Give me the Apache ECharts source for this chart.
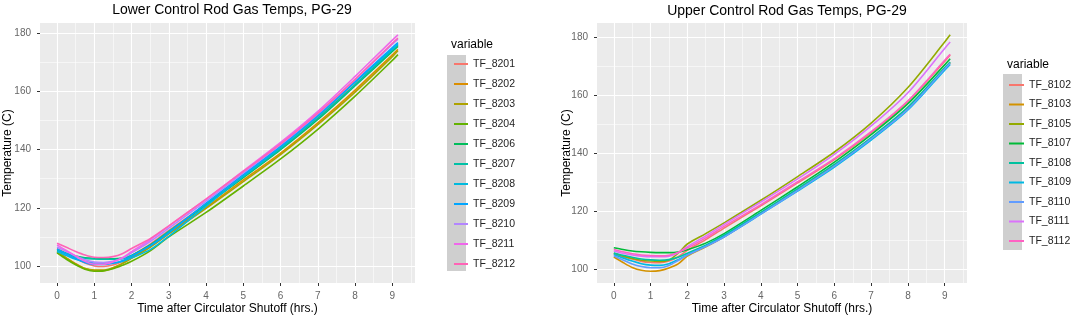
<!DOCTYPE html>
<html>
<head>
<meta charset="utf-8">
<title>Control Rod Gas Temps, PG-29</title>
<script src="https://cdn.jsdelivr.net/npm/echarts@6/dist/echarts.min.js"></script>
<style>
  html, body { margin: 0; padding: 0; background: #fff; }
  #chart { width: 1072px; height: 320px; }
</style>
</head>
<body>
<div id="chart"></div>
<script>
// time after circulator shutoff, hrs.
var hours = [0, 0.25, 0.5, 0.75, 1, 1.25, 1.5, 1.75, 2, 2.5, 3, 4, 5, 6, 7, 8, 9, 9.15];

// lower control rod gas temps (C)
var TF_8201 = [106.0, 104.3, 102.6, 101.0, 100.0, 99.8, 100.3, 101.5, 103.5, 107.5, 112.2, 121.3, 130.8, 140.4, 151.0, 162.5, 174.2, 175.8];
var TF_8202 = [105.0, 102.8, 100.8, 99.1, 98.4, 98.4, 99.3, 100.8, 102.9, 106.8, 111.4, 120.2, 129.6, 138.8, 149.2, 160.5, 172.6, 174.5];
var TF_8203 = [104.8, 102.6, 100.6, 99.1, 98.6, 98.6, 99.4, 100.8, 102.6, 106.4, 111.0, 119.8, 129.0, 138.3, 148.6, 159.8, 172.0, 174.0];
var TF_8204 = [104.5, 102.3, 100.4, 98.9, 98.2, 98.3, 99.0, 100.2, 101.6, 105.2, 110.0, 118.4, 127.5, 136.8, 147.0, 158.4, 170.7, 172.7];
var TF_8206 = [105.6, 104.4, 103.4, 102.8, 102.6, 102.5, 102.5, 102.7, 103.6, 107.2, 111.8, 121.0, 130.4, 140.0, 150.4, 162.0, 173.8, 175.5];
var TF_8207 = [105.3, 104.2, 103.2, 102.6, 102.4, 102.3, 102.3, 102.5, 103.5, 107.1, 111.9, 121.2, 130.7, 140.3, 150.8, 162.3, 174.2, 176.0];
var TF_8208 = [105.0, 103.6, 102.3, 101.4, 101.0, 101.0, 101.0, 101.5, 102.8, 105.6, 110.2, 120.6, 130.9, 140.8, 151.5, 163.2, 174.6, 176.3];
var TF_8209 = [105.8, 104.2, 102.6, 101.2, 100.5, 100.5, 100.9, 101.8, 103.4, 106.9, 111.4, 121.6, 131.4, 141.2, 151.9, 163.4, 175.1, 176.8];
var TF_8210 = [106.5, 105.0, 103.4, 102.1, 101.3, 101.2, 101.6, 102.6, 104.5, 108.4, 113.0, 122.3, 132.0, 141.7, 152.3, 164.1, 176.3, 178.0];
var TF_8211 = [107.2, 105.3, 103.4, 101.6, 100.6, 100.6, 101.4, 102.8, 104.9, 109.0, 113.7, 123.0, 132.7, 142.5, 153.2, 165.2, 177.7, 179.5];
var TF_8212 = [107.8, 106.4, 105.0, 103.8, 103.0, 102.9, 103.2, 104.2, 106.0, 109.4, 113.8, 123.0, 132.5, 142.0, 152.6, 164.2, 176.6, 178.4];

// upper control rod gas temps (C)
var TF_8102 = [105.2, 104.3, 103.5, 102.7, 102.3, 102.2, 102.8, 104.3, 106.5, 110.2, 114.2, 121.9, 129.8, 137.9, 147.2, 158.0, 171.8, 174.0];
var TF_8103 = [104.2, 102.3, 100.6, 99.6, 99.3, 99.5, 100.4, 101.8, 104.5, 107.7, 111.2, 119.3, 127.4, 135.8, 145.2, 155.6, 169.4, 171.4];
var TF_8105 = [105.5, 104.5, 103.7, 103.1, 102.8, 102.7, 103.2, 105.5, 108.7, 112.3, 116.0, 123.8, 132.0, 140.5, 150.5, 162.8, 178.5, 181.0];
var TF_8107 = [107.4, 106.8, 106.3, 106.0, 105.8, 105.7, 105.7, 105.9, 106.7, 109.0, 112.3, 120.3, 128.5, 137.0, 146.5, 157.2, 170.6, 172.7];
var TF_8108 = [105.6, 104.8, 104.1, 103.5, 103.2, 103.1, 103.3, 104.1, 105.5, 108.3, 111.7, 119.6, 127.8, 136.2, 145.5, 156.0, 169.6, 171.6];
var TF_8109 = [105.1, 103.9, 102.8, 101.9, 101.4, 101.3, 101.9, 103.3, 105.0, 108.0, 111.2, 119.0, 127.0, 135.3, 144.6, 155.0, 168.8, 170.8];
var TF_8110 = [104.6, 103.2, 101.8, 100.9, 100.5, 100.5, 101.3, 103.0, 104.9, 107.8, 111.1, 119.1, 127.2, 135.6, 145.0, 155.3, 169.2, 171.2];
var TF_8111 = [106.3, 105.5, 104.9, 104.5, 104.3, 104.3, 104.5, 105.7, 107.8, 111.5, 115.5, 123.2, 131.2, 139.7, 149.5, 161.0, 176.3, 178.5];
var TF_8112 = [106.8, 106.0, 105.3, 104.9, 104.7, 104.6, 104.8, 105.8, 107.3, 110.8, 114.8, 122.3, 130.2, 138.2, 147.5, 158.2, 172.2, 174.3];

var lowerNames = ['TF_8201', 'TF_8202', 'TF_8203', 'TF_8204', 'TF_8206', 'TF_8207', 'TF_8208', 'TF_8209', 'TF_8210', 'TF_8211', 'TF_8212'];
var lowerValues = [TF_8201, TF_8202, TF_8203, TF_8204, TF_8206, TF_8207, TF_8208, TF_8209, TF_8210, TF_8211, TF_8212];
var upperNames = ['TF_8102', 'TF_8103', 'TF_8105', 'TF_8107', 'TF_8108', 'TF_8109', 'TF_8110', 'TF_8111', 'TF_8112'];
var upperValues = [TF_8102, TF_8103, TF_8105, TF_8107, TF_8108, TF_8109, TF_8110, TF_8111, TF_8112];

// axis breaks
var xBreaks = [0, 1, 2, 3, 4, 5, 6, 7, 8, 9];
var xMinorBreaks = [0.5, 1.5, 2.5, 3.5, 4.5, 5.5, 6.5, 7.5, 8.5, 9.5];
var yBreaks = [100, 120, 140, 160, 180];
var yMinorBreaks = [110, 130, 150, 170];

// ggplot default hue palettes
var lowerColors = ['#F8766D', '#DB8E00', '#AEA200', '#64B200', '#00BD5C', '#00C1A7', '#00BADE', '#00A6FF', '#B385FF', '#EF67EB', '#FF63B6'];
var upperColors = ['#F8766D', '#D39200', '#93AA00', '#00BA38', '#00C19F', '#00B9E3', '#619CFF', '#DB72FB', '#FF61C3'];

var FONT = '"Liberation Sans", Arial, sans-serif';

// ggplot style 5% expansion of the data range
function expand(arrs) {
  var lo = Infinity, hi = -Infinity;
  arrs.forEach(function (a) {
    a.forEach(function (v) { lo = Math.min(lo, v); hi = Math.max(hi, v); });
  });
  var pad = (hi - lo) * 0.05;
  return [lo - pad, hi + pad];
}

var xRange = expand([hours]);
var yLower = expand(lowerValues);
var yUpper = expand(upperValues);

function majorX(gridIndex, gap) {
  return {
    type: 'value', gridIndex: gridIndex, min: xRange[0], max: xRange[1],
    name: 'Time after Circulator Shutoff (hrs.)', nameLocation: 'middle', nameGap: gap,
    nameMoveOverlap: false,
    nameTextStyle: { fontFamily: FONT, fontSize: 12, color: '#000' },
    axisLine: { show: false, onZero: false },
    axisTick: { show: true, length: 3, customValues: xBreaks, lineStyle: { color: '#333' } },
    axisLabel: { customValues: xBreaks, margin: 8, fontFamily: FONT, fontSize: 10, color: '#666' },
    splitLine: { show: true, lineStyle: { color: '#fff', width: 1.1 } }
  };
}
function minorX(gridIndex) {
  return {
    type: 'value', gridIndex: gridIndex, min: xRange[0], max: xRange[1],
    axisLine: { show: false, onZero: false },
    axisTick: { show: false, customValues: xMinorBreaks },
    axisLabel: { show: false, customValues: xMinorBreaks },
    splitLine: { show: true, lineStyle: { color: '#fff', width: 0.55 } }
  };
}
function majorY(gridIndex, range, gap) {
  return {
    type: 'value', gridIndex: gridIndex, min: range[0], max: range[1],
    name: 'Temperature (C)', nameLocation: 'middle', nameGap: gap,
    nameMoveOverlap: false,
    nameTextStyle: { fontFamily: FONT, fontSize: 12, color: '#000' },
    axisLine: { show: false, onZero: false },
    axisTick: { show: true, length: 3, customValues: yBreaks, lineStyle: { color: '#333' } },
    axisLabel: { customValues: yBreaks, margin: 9, fontFamily: FONT, fontSize: 10, color: '#666' },
    splitLine: { show: true, lineStyle: { color: '#fff', width: 1.1 } }
  };
}
function minorY(gridIndex, range) {
  return {
    type: 'value', gridIndex: gridIndex, min: range[0], max: range[1],
    axisLine: { show: false, onZero: false },
    axisTick: { show: false, customValues: yMinorBreaks },
    axisLabel: { show: false, customValues: yMinorBreaks },
    splitLine: { show: true, lineStyle: { color: '#fff', width: 0.55 } }
  };
}

var series = [];
lowerNames.forEach(function (name, i) {
  series.push({
    name: name, type: 'line', xAxisIndex: 0, yAxisIndex: 0,
    data: hours.map(function (t, j) { return [t, lowerValues[i][j]]; }),
    showSymbol: false, smooth: 0.3, color: lowerColors[i],
    lineStyle: { width: 1.6 }, z: 3
  });
});
upperNames.forEach(function (name, i) {
  series.push({
    name: name, type: 'line', xAxisIndex: 2, yAxisIndex: 2,
    data: hours.map(function (t, j) { return [t, upperValues[i][j]]; }),
    showSymbol: false, smooth: 0.3, color: upperColors[i],
    lineStyle: { width: 1.6 }, z: 3
  });
});

var chart = echarts.init(document.getElementById('chart'), null, { renderer: 'canvas' });
var option = {
  animation: false,
  backgroundColor: '#fff',
  title: [
    { text: 'Lower Control Rod Gas Temps, PG-29', left: 227, top: -2, textAlign: 'center',
      textStyle: { fontFamily: FONT, fontSize: 14, fontWeight: 'normal', color: '#000' } },
    { text: 'Upper Control Rod Gas Temps, PG-29', left: 782, top: -1, textAlign: 'center',
      textStyle: { fontFamily: FONT, fontSize: 14, fontWeight: 'normal', color: '#000' } },
    { text: 'variable', left: 446, top: 34,
      textStyle: { fontFamily: FONT, fontSize: 12, fontWeight: 'normal', color: '#000' } },
    { text: 'variable', left: 1002, top: 54,
      textStyle: { fontFamily: FONT, fontSize: 12, fontWeight: 'normal', color: '#000' } }
  ],
  graphic: [
    { type: 'rect', left: 447, top: 55, z: 0, shape: { width: 19, height: 216 }, style: { fill: '#CFCFCF' } },
    { type: 'rect', left: 1003, top: 74, z: 0, shape: { width: 19, height: 176 }, style: { fill: '#CFCFCF' } }
  ],
  grid: [
    { left: 40, top: 23, width: 375, height: 262, show: true, backgroundColor: '#EBEBEB', borderWidth: 0 },
    { left: 597, top: 23, width: 370, height: 260, show: true, backgroundColor: '#EBEBEB', borderWidth: 0 }
  ],
  xAxis: [majorX(0, 20), minorX(0), majorX(1, 20), minorX(1)],
  yAxis: [majorY(0, yLower, 26), minorY(0, yLower), majorY(1, yUpper, 24), minorY(1, yUpper)],
  legend: [
    { data: lowerNames, orient: 'vertical', left: 449, top: 52, icon: 'rect',
      itemWidth: 14, itemHeight: 2, itemGap: 6, itemTextGap: 10, z: 5,
      textStyle: { fontFamily: FONT, fontSize: 10.5, lineHeight: 14, color: '#222' } },
    { data: upperNames, orient: 'vertical', left: 1004, top: 73, icon: 'rect',
      itemWidth: 15, itemHeight: 2, itemGap: 5.5, itemTextGap: 9, z: 5,
      textStyle: { fontFamily: FONT, fontSize: 10.5, lineHeight: 14, color: '#222' } }
  ],
  series: series
};
chart.setOption(option);
window.addEventListener('resize', function () { chart.resize(); });
</script>
</body>
</html>
